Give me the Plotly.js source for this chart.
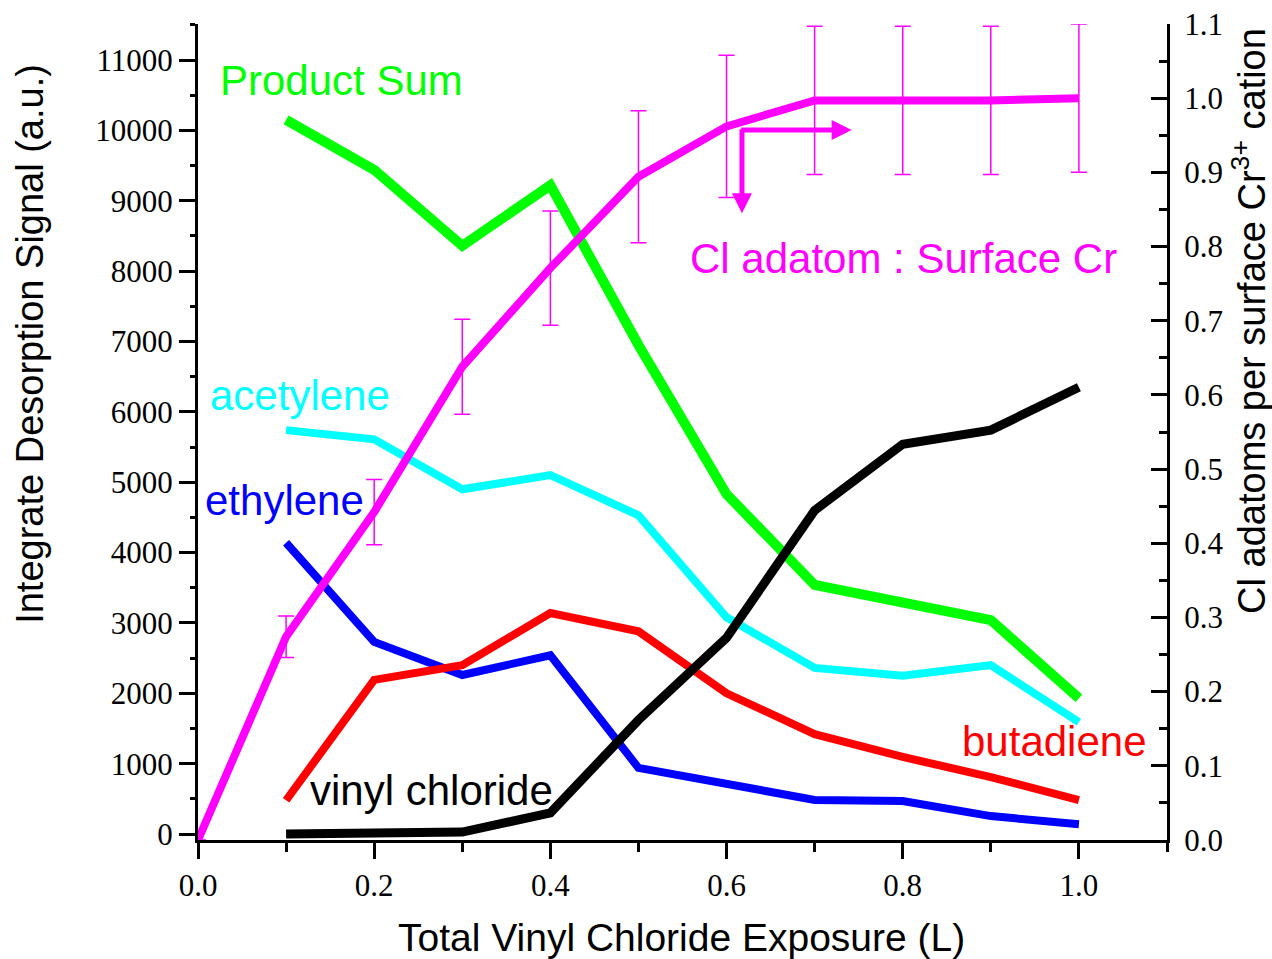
<!DOCTYPE html>
<html>
<head>
<meta charset="utf-8">
<script src="https://cdn.plot.ly/plotly-3.0.1.min.js"></script>
<style>html,body{margin:0;padding:0;background:#fff;}#chart{width:1272px;height:959px;}</style>
</head>
<body>
<div id="chart"></div>
<script>
// Data
const exposure = [0.1, 0.2, 0.3, 0.4, 0.5, 0.6, 0.7, 0.8, 0.9, 1.0];
const productSum = [10150, 9440, 8360, 9220, 6950, 4830, 3540, 3280, 3040, 1930];
const acetylene = [5740, 5610, 4900, 5100, 4530, 3080, 2360, 2250, 2400, 1590];
const ethylene = [4140, 2730, 2260, 2540, 940, 725, 485, 470, 255, 140];
const butadiene = [480, 2190, 2400, 3140, 2880, 2000, 1420, 1095, 810, 480];
const vinylChloride = [0, 28, 28, 300, 1620, 2790, 4600, 5540, 5740, 6350];
const clExposure = [0.0, 0.1, 0.2, 0.3, 0.4, 0.5, 0.6, 0.7, 0.8, 0.9, 1.0];
const clRatio = [0.0, 0.274, 0.442, 0.638, 0.771, 0.894, 0.962, 0.997, 0.997, 0.997, 1.0];
const clError = [0, 0.028, 0.044, 0.064, 0.077, 0.089, 0.096, 0.100, 0.100, 0.100, 0.100];

const sans = 'Liberation Sans, Arial, sans-serif';
const serif = 'Liberation Serif, Times New Roman, serif';

function line(y, color, width) {
  return {x: exposure, y: y, type: 'scatter', mode: 'lines',
    line: {color: color, width: width}, xaxis: 'x', yaxis: 'y', hoverinfo: 'skip'};
}

const traces = [
  line(productSum, '#00ff00', 10),
  line(acetylene, '#00ffff', 8),
  line(ethylene, '#0000ff', 8),
  line(butadiene, '#ff0000', 8),
  line(vinylChloride, '#000000', 9),
  {x: clExposure, y: clRatio, type: 'scatter', mode: 'lines',
   line: {color: '#ff00ff', width: 8}, yaxis: 'y2', hoverinfo: 'skip',
   error_y: {type: 'data', array: clError, visible: true, color: '#ff00ff', thickness: 1.5, width: 8}}
];

function label(text, x, y, color) {
  return {text: text, x: x, y: y, xref: 'x', yref: 'y', xanchor: 'left', yanchor: 'middle',
    showarrow: false, font: {family: sans, size: 42, color: color}};
}
function title(text, x, y, angle, size) {
  return {text: text, x: x, y: y, xref: 'paper', yref: 'paper', xanchor: 'center', yanchor: 'middle',
    textangle: angle, showarrow: false, font: {family: sans, size: size, color: '#000'}};
}
function arrow(x, y, ax, ay) {
  return {x: x, y: y, ax: ax, ay: ay, xref: 'x', yref: 'y2', axref: 'x', ayref: 'y2',
    showarrow: true, arrowhead: 2, arrowsize: 0.8, arrowwidth: 5, arrowcolor: '#ff00ff', text: ''};
}

const layout = {
  width: 1272, height: 959,
  margin: {l: 198, r: 105, t: 24, b: 119},
  paper_bgcolor: '#ffffff', plot_bgcolor: '#ffffff',
  showlegend: false,
  xaxis: {
    range: [0, 1.1], dtick: 0.2, tick0: 0, tickformat: '.1f',
    showgrid: false, zeroline: false, showline: true, linecolor: '#000', linewidth: 3,
    ticks: 'outside', ticklen: 16, tickwidth: 3, tickcolor: '#000',
    minor: {dtick: 0.1, tick0: 0, ticks: 'outside', ticklen: 9, tickwidth: 3, tickcolor: '#000'},
    tickfont: {family: serif, size: 31, color: '#000'},
    automargin: false
  },
  yaxis: {
    range: [-85, 11512], dtick: 1000, tick0: 0, tickformat: 'd',
    showgrid: false, zeroline: false, showline: true, linecolor: '#000', linewidth: 3,
    ticks: 'outside', ticklen: 16, tickwidth: 3, tickcolor: '#000',
    minor: {dtick: 500, tick0: 0, ticks: 'outside', ticklen: 5, tickwidth: 3, tickcolor: '#000'},
    tickfont: {family: serif, size: 31, color: '#000'},
    automargin: false
  },
  yaxis2: {
    overlaying: 'y', side: 'right', range: [0, 1.1], dtick: 0.1, tick0: 0, tickformat: '.1f',
    showgrid: false, zeroline: false, showline: true, linecolor: '#000', linewidth: 3,
    ticks: 'inside', ticklen: 16, tickwidth: 3, tickcolor: '#000',
    minor: {dtick: 0.05, tick0: 0, ticks: 'inside', ticklen: 8, tickwidth: 3, tickcolor: '#000'},
    tickfont: {family: serif, size: 31, color: '#000'},
    ticklabelstandoff: 8,
    automargin: false
  },
  annotations: [
    title('Total Vinyl Chloride Exposure (L)', 0.4985, -0.1195, 0, 39),
    title('Integrate Desorption Signal (a.u.)', -0.1734, 0.608, -90, 38),
    title('Cl adatoms per surface Cr<sup>3+</sup> cation', 1.0845, 0.636, -90, 38),
    label('Product Sum', 0.023, 10716, '#00ff00'),
    label('Cl adatom : Surface Cr', 0.556, 8186, '#ff00ff'),
    label('acetylene', 0.0115, 6239, '#00ffff'),
    label('ethylene', 0.006, 4747, '#0000ff'),
    label('butadiene', 0.865, 1308, '#ff0000'),
    label('vinyl chloride', 0.125, 625, '#000000'),
    arrow(0.742, 0.957, 0.615, 0.957),
    arrow(0.6175, 0.845, 0.6175, 0.96)
  ]
};

Plotly.newPlot('chart', traces, layout, {displayModeBar: false, staticPlot: true});
</script>
</body>
</html>
